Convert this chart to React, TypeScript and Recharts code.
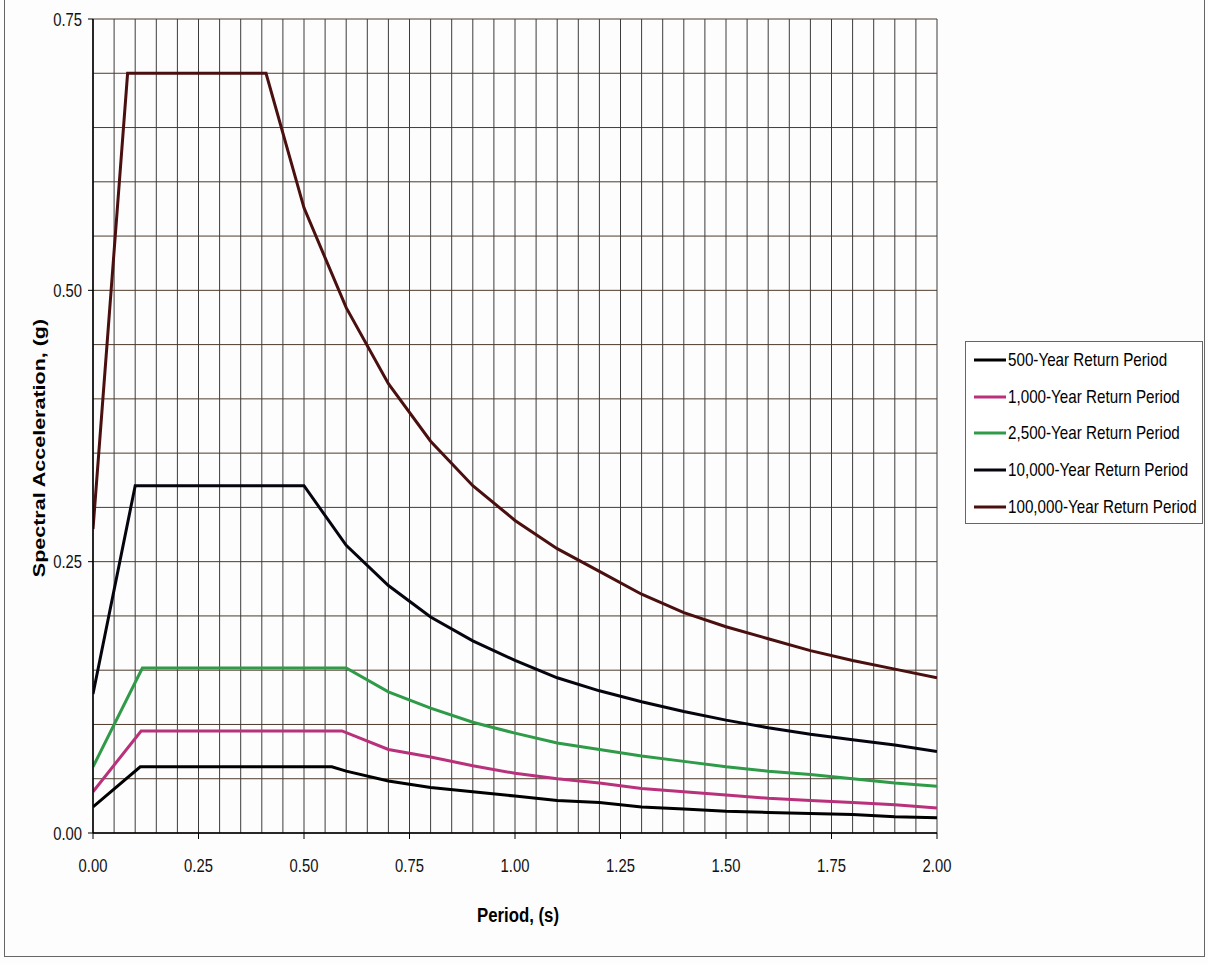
import React from 'react';
import { LineChart, Line, XAxis, YAxis, CartesianGrid, Legend } from 'recharts';

// ---- data ----
const seriesNames = [
  '500-Year Return Period',
  '1,000-Year Return Period',
  '2,500-Year Return Period',
  '10,000-Year Return Period',
  '100,000-Year Return Period',
];
const seriesColors = ['#000000', '#b8317a', '#2f9a47', '#050510', '#4a0f0f'];

const periods500 = [0, 0.112, 0.566, 0.6, 0.7, 0.8, 0.9, 1.0, 1.1, 1.2, 1.3, 1.4, 1.5, 1.6, 1.7, 1.8, 1.9, 2.0];
const sa500 = [0.024, 0.061, 0.061, 0.057, 0.048, 0.042, 0.038, 0.034, 0.03, 0.028, 0.024, 0.022, 0.02, 0.019, 0.018, 0.017, 0.015, 0.014];

const periods1000 = [0, 0.114, 0.59, 0.7, 0.8, 0.9, 1.0, 1.1, 1.2, 1.3, 1.4, 1.5, 1.6, 1.7, 1.8, 1.9, 2.0];
const sa1000 = [0.038, 0.094, 0.094, 0.077, 0.07, 0.062, 0.055, 0.05, 0.046, 0.041, 0.038, 0.035, 0.032, 0.03, 0.028, 0.026, 0.023];

const periods2500 = [0, 0.117, 0.6, 0.7, 0.8, 0.9, 1.0, 1.1, 1.2, 1.3, 1.4, 1.5, 1.6, 1.7, 1.8, 1.9, 2.0];
const sa2500 = [0.061, 0.152, 0.152, 0.13, 0.115, 0.102, 0.092, 0.083, 0.077, 0.071, 0.066, 0.061, 0.057, 0.054, 0.05, 0.046, 0.043];

const periods10000 = [0, 0.1, 0.5, 0.6, 0.7, 0.8, 0.9, 1.0, 1.1, 1.2, 1.3, 1.4, 1.5, 1.6, 1.7, 1.8, 1.9, 2.0];
const sa10000 = [0.128, 0.32, 0.32, 0.265, 0.228, 0.199, 0.177, 0.159, 0.143, 0.131, 0.121, 0.112, 0.104, 0.097, 0.091, 0.086, 0.081, 0.075];

const periods100000 = [0, 0.082, 0.41, 0.5, 0.6, 0.7, 0.8, 0.9, 1.0, 1.1, 1.2, 1.3, 1.4, 1.5, 1.6, 1.7, 1.8, 1.9, 2.0];
const sa100000 = [0.28, 0.7, 0.7, 0.576, 0.484, 0.414, 0.361, 0.32, 0.288, 0.262, 0.241, 0.22, 0.203, 0.19, 0.179, 0.168, 0.159, 0.151, 0.143];

const xTicks = [0, 0.25, 0.5, 0.75, 1.0, 1.25, 1.5, 1.75, 2.0];
const yTicks = [0, 0.25, 0.5, 0.75];
const xGrid = [
  0, 0.05, 0.1, 0.15, 0.2, 0.25, 0.3, 0.35, 0.4, 0.45, 0.5, 0.55, 0.6, 0.65, 0.7, 0.75, 0.8, 0.85, 0.9, 0.95, 1.0,
  1.05, 1.1, 1.15, 1.2, 1.25, 1.3, 1.35, 1.4, 1.45, 1.5, 1.55, 1.6, 1.65, 1.7, 1.75, 1.8, 1.85, 1.9, 1.95, 2.0,
];
const yGrid = [0, 0.05, 0.1, 0.15, 0.2, 0.25, 0.3, 0.35, 0.4, 0.45, 0.5, 0.55, 0.6, 0.65, 0.7, 0.75];

const xTitle = 'Period, (s)';
const yTitle = 'Spectral Acceleration, (g)';

const toRows = (ts: number[], vs: number[]) => ts.map((t, i) => ({ t, sa: vs[i] }));
const seriesData = [
  toRows(periods500, sa500),
  toRows(periods1000, sa1000),
  toRows(periods2500, sa2500),
  toRows(periods10000, sa10000),
  toRows(periods100000, sa100000),
];

const font = "'Liberation Sans', Arial, sans-serif";
const squeeze = 0.8;

const XTick = (props: any) => {
  const { x, y, payload } = props;
  return (
    <g transform={`translate(${x},${y})`}>
      <text transform={`scale(${squeeze},1)`} textAnchor="middle" dy="0.71em" fontFamily={font} fontSize={18.5} fill="#111">
        {Number(payload.value).toFixed(2)}
      </text>
    </g>
  );
};

const YTick = (props: any) => {
  const { x, y, payload } = props;
  return (
    <g transform={`translate(${x},${y})`}>
      <text transform={`scale(${squeeze},1)`} textAnchor="end" dy="0.355em" fontFamily={font} fontSize={18.5} fill="#111">
        {Number(payload.value).toFixed(2)}
      </text>
    </g>
  );
};

const XTitle = (props: any) => {
  const vb = props.viewBox || {};
  const cx = vb.x + vb.width / 2 + 3;
  const cy = vb.y + 89;
  return (
    <g transform={`translate(${cx},${cy})`}>
      <text transform={`scale(${squeeze},1)`} textAnchor="middle" fontFamily={font} fontWeight="bold" fontSize={21} fill="#000">
        {xTitle}
      </text>
    </g>
  );
};

const YTitle = (props: any) => {
  const vb = props.viewBox || {};
  const x = vb.x + 45;
  const y = vb.y + vb.height / 2 + 22;
  return (
    <g transform={`translate(${x},${y}) rotate(-90) scale(1,${squeeze})`}>
      <text x={0} y={0} textAnchor="middle" fontFamily={font} fontWeight="bold" fontSize={21.5} fill="#000">
        {yTitle}
      </text>
    </g>
  );
};

const renderLegend = (props: any) => {
  const payload: any[] = props.payload || [];
  const ordered = seriesNames.map((n) => payload.find((p) => p.value === n)).filter(Boolean);
  return (
    <div style={{ width: 238, height: 183, boxSizing: 'border-box', border: '1.5px solid #666', background: '#fff', overflow: 'hidden' }}>
      {ordered.map((entry: any) => (
        <div key={entry.value} style={{ display: 'flex', alignItems: 'center', height: 36.6, paddingLeft: 8 }}>
          <svg width={32} height={6} style={{ display: 'block', flexShrink: 0 }}>
            <line x1={0} y1={3} x2={32} y2={3} stroke={entry.color} strokeWidth={3} />
          </svg>
          <span
            style={{
              marginLeft: 2,
              fontFamily: font,
              fontSize: 19,
              color: '#000',
              whiteSpace: 'nowrap',
              display: 'inline-block',
              transform: `scaleX(${squeeze})`,
              transformOrigin: 'left center',
            }}
          >
            {entry.value}
          </span>
        </div>
      ))}
    </div>
  );
};

export default function App() {
  return (
    <div style={{ position: 'absolute', left: 0, top: 0, width: 1208, height: 964, background: '#fdfdfd' }}>
      <div style={{ position: 'absolute', left: 4, top: -2, width: 1201, height: 959, boxSizing: 'border-box', border: '1.5px solid #666' }} />
      <LineChart width={1208} height={964} margin={{ top: 19, right: 271, left: 0, bottom: 0 }}>
        <CartesianGrid horizontal={false} verticalValues={xGrid} stroke="#3c3c3c" strokeWidth={1} />
        <CartesianGrid vertical={false} horizontalValues={yGrid} stroke="#4d3b2c" strokeWidth={1} />
        <XAxis
          type="number"
          dataKey="t"
          domain={[0, 2]}
          ticks={xTicks}
          interval={0}
          allowDataOverflow
          height={131}
          tickSize={6}
          tickMargin={20}
          tick={<XTick />}
          axisLine={{ stroke: '#000', strokeWidth: 1.5 }}
          tickLine={{ stroke: '#000' }}
          label={<XTitle />}
        />
        <YAxis
          type="number"
          domain={[0, 0.75]}
          ticks={yTicks}
          interval={0}
          allowDataOverflow
          width={93}
          tickSize={5}
          tickMargin={6}
          tick={<YTick />}
          axisLine={{ stroke: '#000', strokeWidth: 1.5 }}
          tickLine={{ stroke: '#000' }}
          label={<YTitle />}
        />
        <Legend
          layout="vertical"
          align="center"
          verticalAlign="middle"
          content={renderLegend}
          wrapperStyle={{ left: 965, top: 341, width: 238, height: 183 }}
        />
        {seriesNames.map((name, i) => (
          <Line
            key={name}
            name={name}
            data={seriesData[i]}
            dataKey="sa"
            type="linear"
            stroke={seriesColors[i]}
            strokeWidth={3}
            dot={false}
            activeDot={false}
            isAnimationActive={false}
          />
        ))}
      </LineChart>
    </div>
  );
}
